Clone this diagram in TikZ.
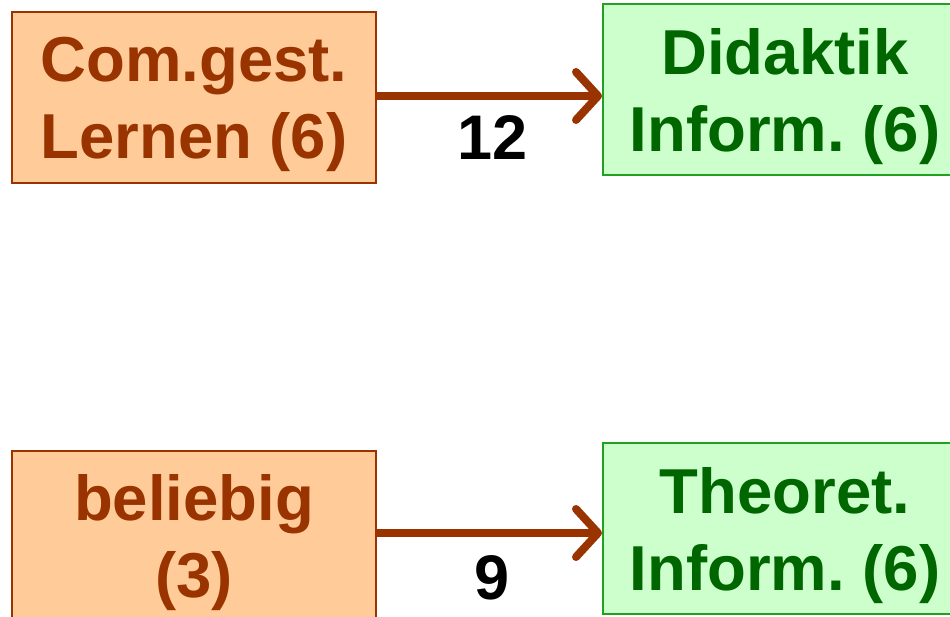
\documentclass[tikz,border=0pt]{standalone}
\usepackage{fontspec}
\setmainfont{Liberation Sans}
\frenchspacing
\usetikzlibrary{arrows.meta}
\definecolor{ofill}{HTML}{FFCC99}
\definecolor{odraw}{HTML}{993300}
\definecolor{gfill}{HTML}{CCFFCC}
\definecolor{gdraw}{HTML}{22A022}
\definecolor{gtext}{HTML}{006600}
\tikzset{
  box/.style={minimum width=364pt, minimum height=171pt, line width=2pt, inner sep=0pt,
    align=center, font=\bfseries\fontsize{63.5}{77}\selectfont, text depth=0pt},
  obox/.style={box, draw=odraw, fill=ofill, text=odraw},
  gbox/.style={box, draw=gdraw, fill=gfill, text=gtext},
  conn/.style={draw=odraw, line width=8pt, -{Straight Barb[length=22pt,width=48pt,round]}},
  lab/.style={font=\bfseries\fontsize{63}{77}\selectfont, text=black, inner sep=0pt}
}
\begin{document}
\begin{tikzpicture}[x=1pt,y=-1pt]
\useasboundingbox (0,0) rectangle (950,617);
\node[obox] (a) at (194,97.5) {Com.gest.\\Lernen (6)};
\node[gbox] (b) at (785,90) {Didaktik\\Inform. (6)};
\node[obox] (c) at (194,536) {beliebig\\(3)};
\node[gbox] (d) at (785,528.5) {Theoret.\\Inform. (6)};
\coordinate (ae) at ([yshift=1.5pt]a.east);
\coordinate (ce) at ([yshift=3pt]c.east);
\draw[conn] (ae) -- (ae -| b.west);
\draw[conn] (ce) -- (ce -| d.west);
\node[lab] (l1) at (493,137.5) {12};
\node[lab] (l2) at (492,577.5) {9};
\end{tikzpicture}
\end{document}
